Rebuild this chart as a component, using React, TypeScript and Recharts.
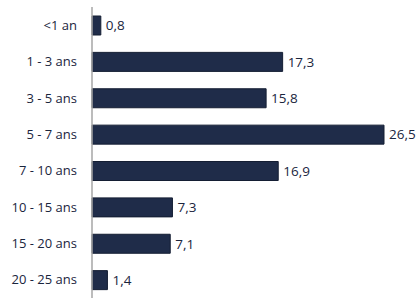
import { BarChart, Bar, XAxis, YAxis, LabelList } from 'recharts'

const categories = ['<1 an', '1 - 3 ans', '3 - 5 ans', '5 - 7 ans', '7 - 10 ans', '10 - 15 ans', '15 - 20 ans', '20 - 25 ans']
const values = [0.8, 17.3, 15.8, 26.5, 16.9, 7.3, 7.1, 1.4]

const data = categories.map((label, i) => ({ label, value: values[i] }))

const font = 'Open Sans, Liberation Sans, sans-serif'

export default function App() {
  return (
    <div style={{ position: 'absolute', left: 0, top: 0, width: 417, height: 298, background: '#fff' }}>
      <BarChart
        width={417}
        height={298}
        data={data}
        layout="vertical"
        margin={{ top: 7, right: 33, bottom: 0, left: 0 }}
      >
        <XAxis type="number" hide domain={[0, 26.5]} />
        <YAxis
          type="category"
          dataKey="label"
          width={92}
          tickLine={false}
          axisLine={{ stroke: '#a6a6a6', strokeWidth: 1.5 }}
          tickMargin={9}
          tick={{ fontSize: 13, fill: '#1a253d', fontFamily: font }}
        />
        <Bar dataKey="value" fill="#1f2c49" stroke="#141e33" strokeWidth={1} barSize={19} isAnimationActive={false}>
          <LabelList
            dataKey="value"
            position="right"
            offset={5}
            formatter={(v: number) => String(v).replace('.', ',')}
            style={{ fontSize: 13.5, fill: '#1a253d', fontFamily: font }}
          />
        </Bar>
      </BarChart>
    </div>
  )
}
